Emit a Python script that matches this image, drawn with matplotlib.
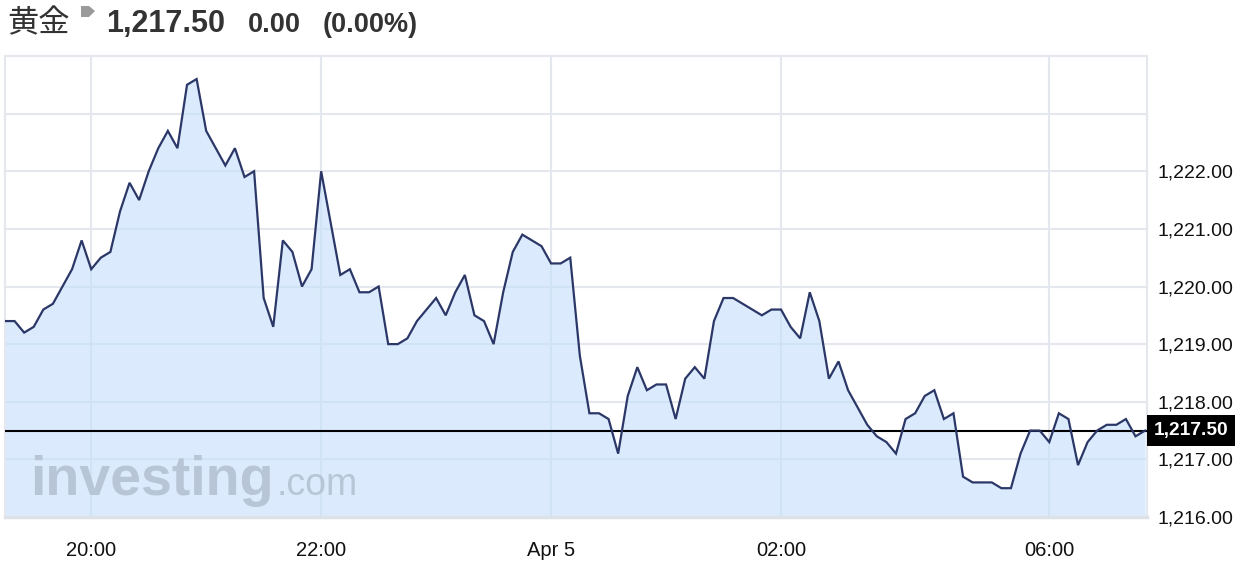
import matplotlib
matplotlib.use("Agg")
import matplotlib.pyplot as plt
from matplotlib.patches import Polygon
import numpy as np

# ---- data ----
title_name = "黄金"
last_price = 1217.50
change = "0.00"
change_pct = "(0.00%)"

prices = [
    1219.4, 1219.4, 1219.2, 1219.3, 1219.6, 1219.7, 1220.0, 1220.3, 1220.8, 1220.3,
    1220.5, 1220.6, 1221.3, 1221.8, 1221.5, 1222.0, 1222.4, 1222.7, 1222.4, 1223.5,
    1223.6, 1222.7, 1222.4, 1222.1, 1222.4, 1221.9, 1222.0, 1219.8, 1219.3, 1220.8,
    1220.6, 1220.0, 1220.3, 1222.0, 1221.1, 1220.2, 1220.3, 1219.9, 1219.9, 1220.0,
    1219.0, 1219.0, 1219.1, 1219.4, 1219.6, 1219.8, 1219.5, 1219.9, 1220.2, 1219.5,
    1219.4, 1219.0, 1219.9, 1220.6, 1220.9, 1220.8, 1220.7, 1220.4, 1220.4, 1220.5,
    1218.8, 1217.8, 1217.8, 1217.7, 1217.1, 1218.1, 1218.6, 1218.2, 1218.3, 1218.3,
    1217.7, 1218.4, 1218.6, 1218.4, 1219.4, 1219.8, 1219.8, 1219.7, 1219.6, 1219.5,
    1219.6, 1219.6, 1219.3, 1219.1, 1219.9, 1219.4, 1218.4, 1218.7, 1218.2, 1217.9,
    1217.6, 1217.4, 1217.3, 1217.1, 1217.7, 1217.8, 1218.1, 1218.2, 1217.7, 1217.8,
    1216.7, 1216.6, 1216.6, 1216.6, 1216.5, 1216.5, 1217.1, 1217.5, 1217.5, 1217.3,
    1217.8, 1217.7, 1216.9, 1217.3, 1217.5, 1217.6, 1217.6, 1217.7, 1217.4, 1217.5,
]
x_tick_index = [9, 33, 57, 81, 109]
x_tick_labels = ["20:00", "22:00", "Apr 5", "02:00", "06:00"]
y_ticks = [1216, 1217, 1218, 1219, 1220, 1221, 1222, 1223]
y_tick_labels = ["1,216.00", "1,217.00", "1,218.00", "1,219.00", "1,220.00",
                 "1,221.00", "1,222.00", ""]

# ---- figure ----
W, H = 1246, 572
fig = plt.figure(figsize=(W / 100, H / 100), dpi=100)
fig.patch.set_facecolor("white")
FONT = ["Liberation Sans", "DejaVu Sans"]

ax = fig.add_axes([5 / W, 1 - 517 / H, (1147 - 5) / W, (517 - 56) / H])
x = np.arange(len(prices))

grid_c = "#e4e7ed"
ax.set_axisbelow(True)
ax.grid(True, color=grid_c, lw=1.5)
ax.fill_between(x, prices, 1216, color="#c4dffc", alpha=0.6, lw=0, zorder=2)
ax.plot(x, prices, color="#2b3767", lw=1.6, zorder=4, solid_joinstyle="miter")
ax.axhline(last_price, color="black", lw=1.5, zorder=3)

ax.set_xlim(0, 119.2)
ax.set_ylim(1216, 1224)
ax.set_xticks(x_tick_index)
ax.set_xticklabels(x_tick_labels, family=FONT, fontsize=14.5, color="#111111")
ax.set_yticks(y_ticks)
ax.set_yticklabels(y_tick_labels, family=FONT, fontsize=14, color="#111111")
ax.yaxis.tick_right()
ax.tick_params(axis="both", length=0)
ax.tick_params(axis="x", pad=17)
ax.tick_params(axis="y", pad=7.5)
for s in ["left", "top", "right"]:
    ax.spines[s].set_color(grid_c)
    ax.spines[s].set_linewidth(1.5)
ax.spines["bottom"].set_color("#dde1e8")
ax.spines["bottom"].set_linewidth(2.5)

# price tag on the right axis
ax.annotate(f"{last_price:,.2f}", xy=(1, last_price), xycoords=("axes fraction", "data"),
            xytext=(5, 0), textcoords="offset points", ha="left", va="center",
            family=FONT, fontsize=13.8, fontweight="bold", color="white",
            bbox=dict(boxstyle="square,pad=0.35", fc="black", ec="none"),
            annotation_clip=False, zorder=6)

# watermark
fig.text(30 / W, 1 - 495 / H, "investing", family=FONT, fontsize=40, fontweight="bold",
         color="#b8c5d7", ha="left", va="baseline", zorder=5)
fig.text(277 / W, 1 - 495 / H, ".com", family=FONT, fontsize=27,
         color="#b8c5d7", ha="left", va="baseline", zorder=5)

# header
base = 1 - 32 / H
fig.text(7 / W, base, title_name, family=["Noto Sans CJK JP", "DejaVu Sans"], fontsize=22.5,
         color="#333333", ha="left", va="baseline")
arrow_px = [(81, 6), (89, 6), (95, 11), (89, 17), (81, 17)]
fig.patches.append(Polygon([(px / W, 1 - py / H) for px, py in arrow_px], closed=True,
                           fc="#9a9a9a", ec="none", transform=fig.transFigure))
fig.text(106 / W, base, f"{last_price:,.2f}", family=FONT, fontsize=22, fontweight="bold",
         color="#333333", ha="left", va="baseline")
fig.text(248 / W, base, change, family=FONT, fontsize=19.5, fontweight="bold",
         color="#333333", ha="left", va="baseline")
fig.text(323 / W, base, change_pct, family=FONT, fontsize=19.5, fontweight="bold",
         color="#333333", ha="left", va="baseline")

fig.savefig("out.png", dpi=100, facecolor="white")
